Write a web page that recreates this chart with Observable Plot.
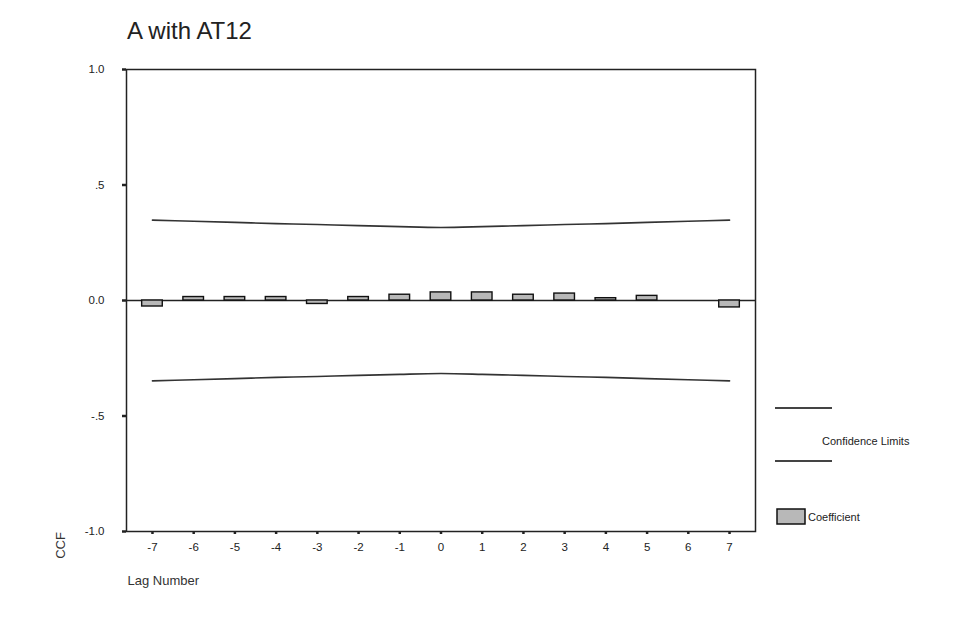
<!DOCTYPE html>
<html>
<head>
<meta charset="utf-8">
<script src="https://cdn.jsdelivr.net/npm/d3@7"></script>
<script src="https://cdn.jsdelivr.net/npm/@observablehq/plot@0.6"></script>
<style>
  html, body { margin: 0; padding: 0; background: #fff; }
  #wrap { position: relative; width: 973px; height: 622px; font-family: "Liberation Sans", Arial, sans-serif; }
  #title { height: 55px; box-sizing: border-box; padding-left: 127px; padding-top: 16px; font-size: 24px; color: #222; line-height: 30px; }
  #legend { position: absolute; left: 0; top: 0; pointer-events: none; }
  svg { display: block; }
</style>
</head>
<body>
<div id="wrap">
  <div id="title">A with AT12</div>
  <div id="chart"></div>
  <svg id="legend" width="973" height="622"></svg>
</div>
<script>
const lags = [-7, -6, -5, -4, -3, -2, -1, 0, 1, 2, 3, 4, 5, 6, 7];
const coefficients = [-0.026, 0.015, 0.015, 0.015, -0.015, 0.015, 0.025, 0.035, 0.035, 0.025, 0.03, 0.01, 0.02, 0.0, -0.03];
const upperLimits = [0.348, 0.343, 0.338, 0.333, 0.329, 0.324, 0.320, 0.316, 0.320, 0.324, 0.329, 0.333, 0.338, 0.343, 0.348];
const lowerLimits = [-0.348, -0.343, -0.338, -0.333, -0.329, -0.324, -0.320, -0.316, -0.320, -0.324, -0.329, -0.333, -0.338, -0.343, -0.348];
const xTickLabels = ["-7", "-6", "-5", "-4", "-3", "-2", "-1", "0", "1", "2", "3", "4", "5", "6", "7"];
const yTicks = [-1, -0.5, 0, 0.5, 1];
const yTickLabels = ["-1.0", "-.5", "0.0", ".5", "1.0"];

const bars = lags.map((lag, i) => ({lag, value: coefficients[i]}));
const upper = lags.map((lag, i) => ({lag, value: upperLimits[i]}));
const lower = lags.map((lag, i) => ({lag, value: lowerLimits[i]}));
const halfWidth = 0.25;

const chart = Plot.plot({
  width: 973,
  height: 567,
  marginLeft: 126,
  marginRight: 218,
  marginTop: 14,
  marginBottom: 91,
  style: {fontFamily: "'Liberation Sans', Arial, sans-serif", fontSize: "11px", color: "#222", background: "#fff"},
  x: {domain: [-7.63, 7.63]},
  y: {domain: [-1, 1]},
  marks: [
    Plot.frame({stroke: "#222", strokeWidth: 1.5}),
    Plot.axisX({ticks: lags, tickSize: 3, tickPadding: 8, label: null, strokeWidth: 2.5, fontSize: 11.5,
      tickFormat: d => xTickLabels[lags.indexOf(d)]}),
    Plot.axisY({ticks: yTicks, tickSize: 4, tickPadding: 18, label: null, strokeWidth: 2.5, fontSize: 11.5,
      tickFormat: d => yTickLabels[yTicks.indexOf(d)]}),
    Plot.ruleY([0], {stroke: "#222", strokeWidth: 1.5}),
    Plot.line(upper, {x: "lag", y: "value", stroke: "#333", strokeWidth: 1.6, curve: "natural"}),
    Plot.line(lower, {x: "lag", y: "value", stroke: "#333", strokeWidth: 1.6, curve: "natural"}),
    Plot.rect(bars, {x1: d => d.lag - halfWidth, x2: d => d.lag + halfWidth, y1: 0, y2: "value",
      fill: "#b8b8b8", stroke: "#111", strokeWidth: 1.4}),
    Plot.text(["CCF"], {frameAnchor: "bottom-left", dx: -66, dy: 14, rotate: -90,
      textAnchor: "middle", lineAnchor: "middle", fontSize: 13, fill: "#333"}),
    Plot.text(["Lag Number"], {frameAnchor: "bottom-left", dx: 1, dy: 49,
      textAnchor: "start", lineAnchor: "middle", fontSize: 13, fill: "#333"})
  ]
});
document.getElementById("chart").appendChild(chart);

// legend (outside plotting frame)
const lg = d3.select("#legend");
lg.append("line").attr("x1", 775).attr("x2", 832).attr("y1", 408).attr("y2", 408).attr("stroke", "#444").attr("stroke-width", 2);
lg.append("line").attr("x1", 775).attr("x2", 832).attr("y1", 461).attr("y2", 461).attr("stroke", "#444").attr("stroke-width", 2);
lg.append("text").attr("x", 822).attr("y", 445).attr("font-size", 11).attr("fill", "#222")
  .attr("font-family", "'Liberation Sans', Arial, sans-serif").text("Confidence Limits");
lg.append("rect").attr("x", 777).attr("y", 509).attr("width", 28).attr("height", 15)
  .attr("fill", "#b8b8b8").attr("stroke", "#111").attr("stroke-width", 1.5);
lg.append("text").attr("x", 808).attr("y", 521).attr("font-size", 11).attr("fill", "#222")
  .attr("font-family", "'Liberation Sans', Arial, sans-serif").text("Coefficient");
</script>
</body>
</html>
